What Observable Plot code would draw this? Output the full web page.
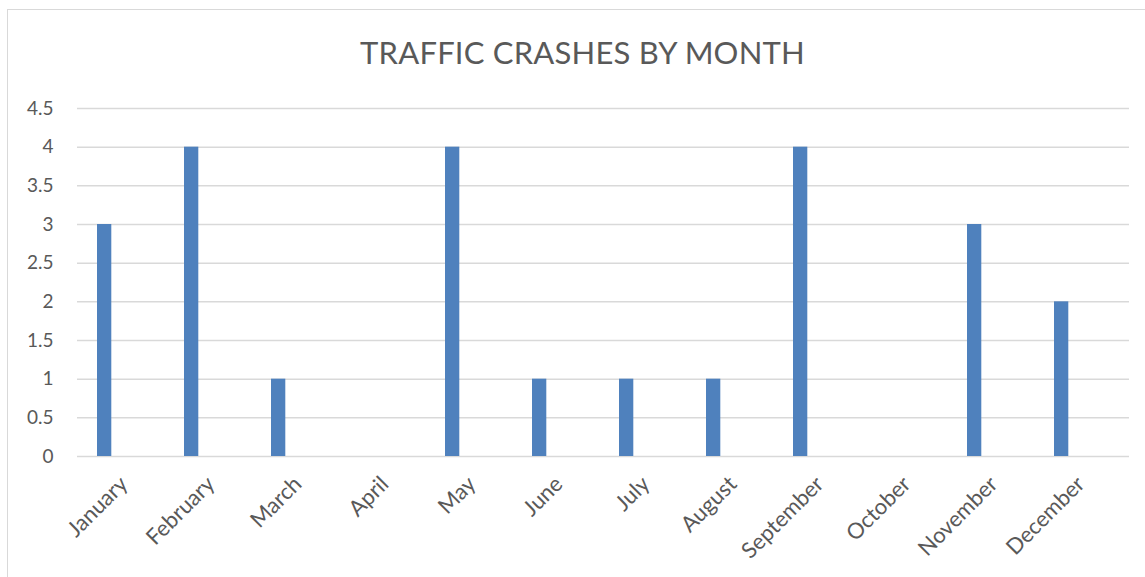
<!DOCTYPE html>
<html>
<head>
<meta charset="utf-8">
<script src="https://cdn.jsdelivr.net/npm/d3@7"></script>
<script src="https://cdn.jsdelivr.net/npm/@observablehq/plot@0.6"></script>
<style>
  html, body { margin: 0; padding: 0; background: #fff; }
  #wrap { position: relative; width: 1145px; height: 577px; overflow: hidden; }
  #frame { position: absolute; left: 7px; top: 9px; width: 1200px; height: 700px; border: 1.5px solid #d9d9d9; box-sizing: border-box; }
  #title { position: absolute; left: 0; top: 33px; width: 1165px; text-align: center; font-family: Lato, sans-serif; font-size: 31px; color: #595959; letter-spacing: 0.2px; }
  #chart { position: absolute; left: 0; top: 0; }
</style>
</head>
<body>
<div id="wrap">
  <div id="frame"></div>
  <div id="title">TRAFFIC CRASHES BY MONTH</div>
  <div id="chart"></div>
</div>
<script>
const months = ["January","February","March","April","May","June","July","August","September","October","November","December"];
const crashes = [3, 4, 1, 0, 4, 1, 1, 1, 4, 0, 3, 2];
const yTicks = [0, 0.5, 1, 1.5, 2, 2.5, 3, 3.5, 4, 4.5];

const data = months.map((m, i) => ({month: m, crashes: crashes[i]}));

const chart = Plot.plot({
  width: 1145,
  height: 577,
  marginLeft: 77,
  marginRight: 16,
  marginTop: 108,
  marginBottom: 121,
  style: {fontFamily: "Lato, sans-serif", fontSize: "19px", color: "#595959", background: "transparent"},
  x: {domain: months, padding: 0, label: null},
  y: {domain: [0, 4.5], label: null},
  marks: [
    Plot.gridY(yTicks, {stroke: "#d9d9d9", strokeOpacity: 1, strokeWidth: 1.5}),
    Plot.barY(data, {x: "month", y: "crashes", fill: "#4F81BD", insetLeft: 16, insetRight: 56.7}),
    Plot.axisY({ticks: yTicks, tickSize: 0, tickPadding: 24, tickFormat: d => String(d), fill: "#595959", fontSize: 19}),
    Plot.axisX({tickSize: 0, tickPadding: 24, tickRotate: -45, dx: -1, fill: "#595959", fontSize: 22})
  ]
});
document.getElementById("chart").appendChild(chart);
</script>
</body>
</html>
